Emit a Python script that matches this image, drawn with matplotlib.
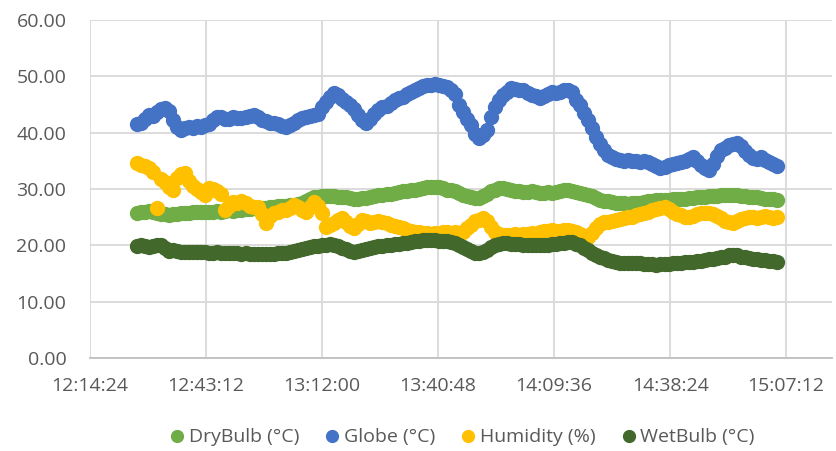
import matplotlib
matplotlib.use("Agg")
import matplotlib.pyplot as plt
from matplotlib.ticker import FuncFormatter, FixedLocator, MultipleLocator
import numpy as np

# readings once a minute from 12:26 to 15:05
start_minute = 12 * 60 + 26
n_points = 160

drybulb = [
    25.8, 25.9, 26.0, 26.1, 26.0, 25.8, 25.6, 25.5, 25.4, 25.5,
    25.6, 25.7, 25.7, 25.8, 25.9, 25.9, 26.0, 26.0, 25.9, 26.0,
    26.1, 26.0, 26.1, 26.2, 26.1, 26.2, 26.3, 26.4, 26.5, 26.6,
    26.6, 26.7, 26.7, 26.8, 26.8, 26.9, 27.0, 27.0, 27.1, 27.2,
    27.4, 27.6, 27.9, 28.2, 28.5, 28.6, 28.7, 28.8, 28.8, 28.7,
    28.6, 28.6, 28.5, 28.4, 28.3, 28.3, 28.4, 28.4, 28.5, 28.7,
    28.9, 29.0, 29.1, 29.2, 29.3, 29.5, 29.6, 29.7, 29.8, 29.9,
    30.0, 30.1, 30.3, 30.4, 30.4, 30.3, 30.1, 29.9, 29.8, 29.6,
    29.3, 29.0, 28.8, 28.6, 28.4, 28.4, 28.7, 29.1, 29.6, 29.9,
    30.1, 30.2, 30.0, 29.8, 29.7, 29.6, 29.5, 29.5, 29.6, 29.4,
    29.3, 29.3, 29.4, 29.3, 29.5, 29.7, 29.8, 29.8, 29.6, 29.4,
    29.3, 29.2, 29.0, 28.7, 28.4, 28.1, 27.9, 27.8, 27.7, 27.6,
    27.5, 27.5, 27.4, 27.5, 27.6, 27.6, 27.7, 27.8, 27.9, 28.0,
    28.0, 28.1, 28.1, 28.2, 28.2, 28.3, 28.3, 28.4, 28.4, 28.5,
    28.5, 28.6, 28.7, 28.8, 28.8, 28.9, 29.0, 29.0, 28.9, 29.0,
    28.8, 28.7, 28.6, 28.5, 28.5, 28.4, 28.3, 28.2, 28.2, 28.1,
]

globe = [
    41.5, 41.8, 42.5, 43.2, 43.0, 43.6, 44.2, 44.4, 43.8, 42.3,
    41.0, 40.5, 40.8, 41.0, 40.8, 41.2, 41.0, 41.4, 41.6, 42.2,
    42.7, 42.8, 42.5, 42.4, 42.7, 42.6, 42.6, 42.8, 42.9, 43.2,
    42.8, 42.3, 42.0, 41.7, 41.8, 41.5, 41.2, 41.0, 41.3, 41.8,
    42.3, 42.6, 42.7, 43.0, 43.2, 43.4, 44.6, 45.5, 46.4, 47.1,
    46.6, 46.0, 45.5, 44.9, 44.2, 43.2, 42.2, 41.7, 42.5, 43.4,
    44.1, 44.6, 44.8, 45.3, 45.8, 46.2, 46.4, 46.9, 47.3, 47.6,
    47.9, 48.3, 48.5, 48.4, 48.6, 48.5, 48.2, 48.1, 47.6, 46.8,
    45.0, 43.6, 42.4, 41.4, 39.8, 39.1, 39.6, 40.5, 42.8, 44.5,
    45.8, 46.6, 47.3, 48.0, 47.8, 47.5, 47.6, 47.1, 46.7, 46.5,
    46.2, 46.5, 46.9, 47.2, 47.0, 47.2, 47.5, 47.6, 47.3, 45.8,
    44.9, 43.5, 42.3, 40.8, 39.3, 38.0, 37.0, 36.1, 35.6, 35.4,
    35.2, 35.0, 35.1, 34.9, 35.0, 34.8, 35.0, 34.8, 34.5, 34.0,
    33.7, 33.9, 34.2, 34.4, 34.6, 34.8, 35.0, 35.3, 35.7, 35.0,
    34.3, 33.8, 33.4, 34.5, 35.8, 36.9, 37.3, 37.8, 38.0, 38.2,
    37.6, 36.7, 36.0, 35.5, 35.3, 35.6, 35.2, 34.8, 34.5, 34.0,
]

humidity = [
    34.6, 34.3, 34.0, 33.8, 33.0, 26.7, 31.8, 31.2, 30.4, 29.8,
    32.0, 32.6, 32.8, 31.5, 30.5, 30.0, 29.4, 29.0, 30.2, 30.0,
    29.6, 29.2, 26.3, 27.0, 27.7, 27.5, 27.8, 27.6, 27.0, 26.8,
    26.8, 25.5, 24.0, 25.2, 25.8, 26.0, 26.2, 26.3, 26.6, 27.2,
    26.8, 26.2, 25.9, 26.8, 27.7, 27.0, 25.8, 23.3, 23.6, 24.0,
    24.5, 24.9, 24.2, 23.5, 23.1, 23.8, 24.5, 24.3, 24.0, 24.2,
    24.3, 24.2, 23.9, 23.6, 23.4, 23.3, 23.0, 22.8, 22.6, 22.4,
    22.3, 22.2, 22.2, 22.1, 22.2, 22.1, 22.3, 22.3, 22.2, 22.3,
    22.2, 22.4, 23.0, 23.6, 24.3, 24.5, 24.9, 24.3, 23.2, 22.4,
    22.1, 21.9, 21.8, 21.8, 22.0, 21.9, 22.0, 22.1, 22.2, 22.1,
    22.3, 22.5, 22.6, 22.7, 22.5, 22.6, 22.8, 22.7, 22.6, 22.4,
    22.0, 21.7, 21.5, 22.2, 23.0, 23.8, 24.1, 24.2, 24.4, 24.5,
    24.7, 24.8, 25.0, 25.0, 25.3, 25.6, 25.8, 26.0, 26.2, 26.4,
    26.6, 26.8, 26.5, 26.0, 25.6, 25.3, 25.1, 25.0, 25.2, 25.5,
    25.7, 25.8, 25.8, 25.5, 25.2, 24.8, 24.4, 24.1, 24.0, 24.3,
    24.6, 24.8, 25.0, 25.1, 24.9, 25.0, 25.2, 25.0, 24.9, 25.1,
]

wetbulb = [
    19.9, 20.0, 19.8, 19.7, 19.9, 20.1, 20.0, 19.5, 19.0, 19.2,
    19.0, 18.9, 18.9, 18.8, 18.9, 18.8, 18.9, 18.8, 18.7, 18.7,
    18.8, 18.7, 18.6, 18.7, 18.6, 18.6, 18.5, 18.6, 18.5, 18.4,
    18.4, 18.5, 18.4, 18.4, 18.5, 18.6, 18.6, 18.7, 18.8, 19.0,
    19.2, 19.4, 19.5, 19.7, 19.8, 19.9, 20.0, 20.1, 20.2, 20.1,
    19.9, 19.6, 19.3, 19.0, 18.9, 19.0, 19.1, 19.3, 19.5, 19.7,
    19.8, 19.9, 20.0, 20.1, 20.2, 20.3, 20.4, 20.5, 20.6, 20.7,
    20.8, 20.9, 21.0, 21.0, 20.9, 20.8, 20.7, 20.7, 20.6, 20.4,
    20.1, 19.7, 19.3, 19.0, 18.7, 18.6, 18.8, 19.2, 19.7, 20.1,
    20.3, 20.4, 20.4, 20.3, 20.2, 20.2, 20.1, 20.1, 20.1, 20.0,
    20.0, 20.1, 20.1, 20.2, 20.3, 20.4, 20.5, 20.6, 20.6, 20.3,
    20.0, 19.6, 19.1, 18.7, 18.3, 18.0, 17.7, 17.4, 17.2, 17.0,
    16.9, 16.9, 16.8, 16.9, 16.9, 16.8, 16.7, 16.6, 16.6, 16.5,
    16.6, 16.6, 16.7, 16.8, 16.8, 16.9, 17.0, 17.1, 17.1, 17.2,
    17.3, 17.4, 17.5, 17.6, 17.8, 17.9, 18.0, 18.2, 18.3, 18.2,
    18.0, 17.9, 17.7, 17.6, 17.5, 17.4, 17.4, 17.3, 17.2, 17.1,
]

series = [
    ("DryBulb (°C)", drybulb, "#70AD47"),
    ("Globe (°C)", globe, "#4472C4"),
    ("Humidity (%)", humidity, "#FFC000"),
    ("WetBulb (°C)", wetbulb, "#43682B"),
]

# excel-style time axis: fraction of a day
times = (start_minute + np.arange(n_points)) / 1440.0
x_ticks = [0.51, 0.53, 0.55, 0.57, 0.59, 0.61, 0.63]


def fmt_time(x, pos):
    s = int(round(x * 86400))
    return f"{s // 3600}:{(s % 3600) // 60:02d}:{s % 60:02d}"


plt.rcParams['font.family'] = ['Open Sans', 'DejaVu Sans']
grey = "#595959"

fig = plt.figure(figsize=(8.36, 4.51), dpi=100)
ax = fig.add_axes([90 / 836, 1 - 358 / 451, (832 - 90) / 836, (358 - 20) / 451])

for name, vals, col in series:
    ax.plot(times, vals, linestyle="none", marker="o", markersize=10,
            markerfacecolor=col, markeredgecolor=col, label=name)

ax.set_xlim(0.51, 0.6379)
ax.set_ylim(0, 60)
ax.xaxis.set_major_locator(FixedLocator(x_ticks))
ax.yaxis.set_major_locator(MultipleLocator(10))
ax.xaxis.set_major_formatter(FuncFormatter(fmt_time))
ax.yaxis.set_major_formatter(FuncFormatter(lambda v, p: f"{v:.2f}"))

ax.grid(True, color="#D9D9D9", linewidth=1.3)
ax.set_axisbelow(True)
for side in ["top", "right", "left"]:
    ax.spines[side].set_visible(False)
ax.spines["bottom"].set_color("#BFBFBF")
ax.spines["bottom"].set_linewidth(1.3)

ax.tick_params(axis="both", length=0, labelsize=14, labelcolor=grey)
ax.tick_params(axis="y", pad=17)
ax.tick_params(axis="x", pad=14)

leg = ax.legend(loc="center", bbox_to_anchor=(0.5, -0.235), ncol=4,
                frameon=False, fontsize=14, handletextpad=0.1,
                columnspacing=1.2, markerscale=0.85, handlelength=1.0)
for t in leg.get_texts():
    t.set_color(grey)

fig.savefig("out.png", dpi=100)
